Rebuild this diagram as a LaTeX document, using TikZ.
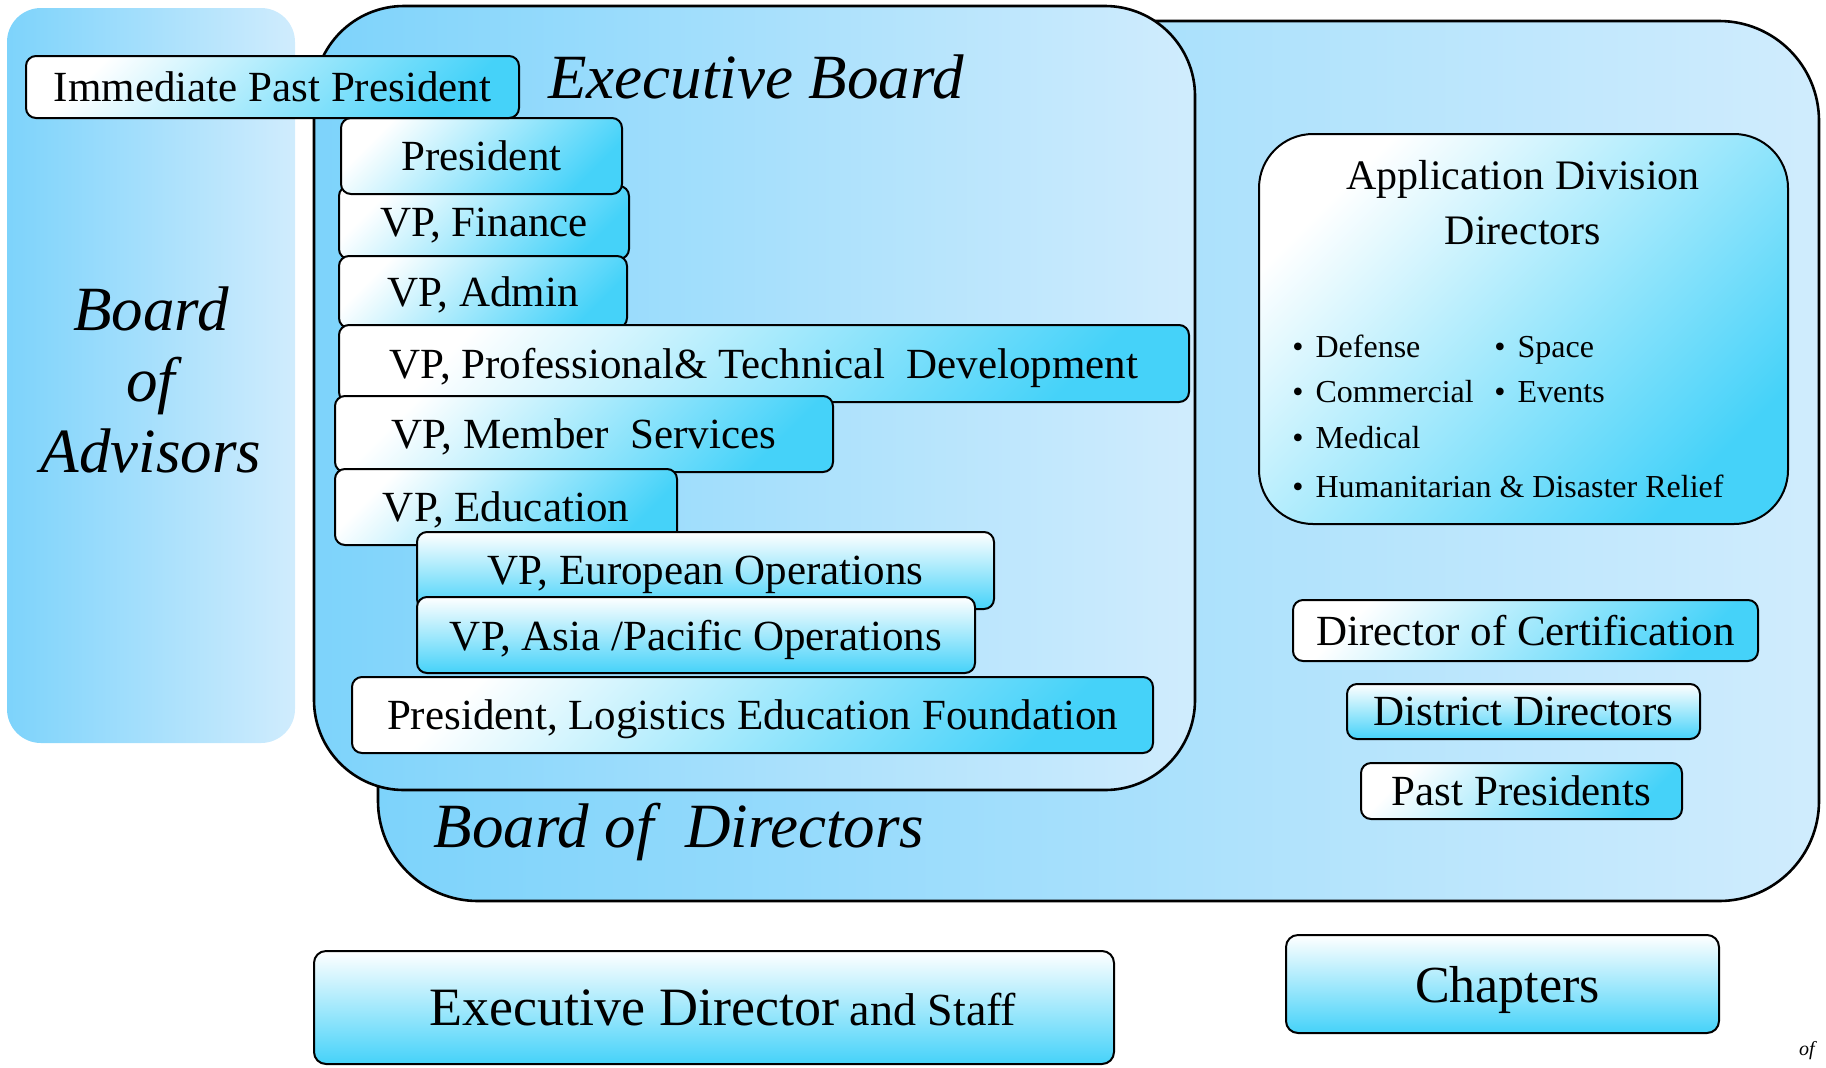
\documentclass[tikz,border=0pt]{standalone}
\usepackage{fontspec}
\setmainfont{Liberation Serif}
\definecolor{boxcyan}{HTML}{45D2F9}
\definecolor{panelleft}{HTML}{7DD3FB}
\definecolor{panelright}{HTML}{D0ECFD}
\tikzset{span/.style n args={4}{at={({(#1+#3)/2},{(#2+#4)/2})},minimum width={(#3-#1)*0.5pt},minimum height={(#4-#2)*0.5pt}}}
\tikzset{panel/.style={inner sep=0pt,left color=panelleft,right color=panelright}}
\tikzset{bigpanel/.style={panel,draw,line width=1.3pt,rounded corners=45pt}}
\tikzset{orgbox/.style={draw,line width=1pt,rounded corners=5pt,inner sep=0pt,text depth=0pt,top color=white,bottom color=boxcyan,shading angle=45,font=\fontsize{21.5}{26}\selectfont}}
\tikzset{stackbox/.style={orgbox,shading angle=0}}
\tikzset{boardtitle/.style={font=\fontsize{31.5}{35.5}\selectfont\itshape}}
\tikzset{item/.style={anchor=base west,inner sep=0pt,font=\fontsize{16}{19}\selectfont}}

\begin{document}
\begin{tikzpicture}[x=0.5pt,y=-0.5pt]
\useasboundingbox (0,0) rectangle (1826,1067);

% the three boards
\node[panel,rounded corners=17pt,span={7}{8}{295}{743}] (advisors) {};
\node[bigpanel,rounded corners=50pt,span={378}{21}{1819}{901}] (directors) {};
\node[bigpanel,span={314}{6}{1195}{790}] (execboard) {};

\node[boardtitle,align=center] (advisorslabel) at (151,380) {Board\\of\\Advisors};
\node[boardtitle] (execlabel) at (756,77) {Executive Board};
\node[boardtitle] (directorslabel) at (679,832) {Board of\ \ Directors};

% executive board members
\foreach \name/\sty/\xa/\ya/\xb/\yb/\txt in {{vpfin/orgbox/339/186/629/259/{VP, Finance}},
    {pres/orgbox/341/118/622/194/President}, {vpadmin/orgbox/339/256/627/328/{VP, Admin}},
    {vpprof/orgbox/339/325/1189/402/{VP, Professional\& Technical\ \ Development}},
    {vpmember/orgbox/335/396/833/472/{VP, Member\ \ Services}}, {vpedu/orgbox/335/469/677/545/{VP, Education}},
    {vpeuro/stackbox/417/532/994/609/{VP, European Operations}},
    {vpasia/stackbox/417/597/975/673/{VP, Asia /Pacific Operations}},
    {lef/orgbox/352/677/1153/753/{President, Logistics Education Foundation}}}
  \node[\sty,span={\xa}{\ya}{\xb}{\yb}] (\name) {\txt};

\node[orgbox,span={26}{56}{519}{118}] (ipp) {Immediate Past President};

% directors at large
\node[orgbox,rounded corners=27pt,span={1259}{134}{1788}{524}] (appdiv) {};
\node[align=center,font=\fontsize{21}{27.5}\selectfont] (appdivtitle) at (1523,203) {Application Division\\Directors};
\foreach \name/\x/\y/\txt in {{defense/1292/357/Defense},{spaceapp/1494/357/Space},
    {commercial/1292/402/Commercial},{events/1494/402/Events},{medical/1292/448/Medical},
    {relief/1292/497/{Humanitarian \& Disaster Relief}}}
  \node[item] (\name) at (\x,\y) {\textbullet\hspace{6pt}\txt};

\node[orgbox,span={1293}{600}{1758}{661}] (dircert) {Director of Certification};
\node[stackbox,span={1347}{684}{1700}{739}] (district) {District Directors};
\node[orgbox,span={1361}{763}{1682}{819}] (pastpres) {Past Presidents};

% outside the boards
\node[stackbox,rounded corners=6pt,span={314}{951}{1114}{1064}] (execdir) {\hspace{9pt}{\fontsize{27}{32}\selectfont Executive Director} {\fontsize{23}{28}\selectfont and Staff}};
\node[stackbox,rounded corners=6pt,font=\fontsize{26}{31}\selectfont,span={1286}{935}{1719}{1033}] (chapters) {\hspace{5pt}Chapters};
\node[font=\fontsize{10}{12}\selectfont\itshape] (pagemark) at (1807,1051) {of};
\end{tikzpicture}
\end{document}
